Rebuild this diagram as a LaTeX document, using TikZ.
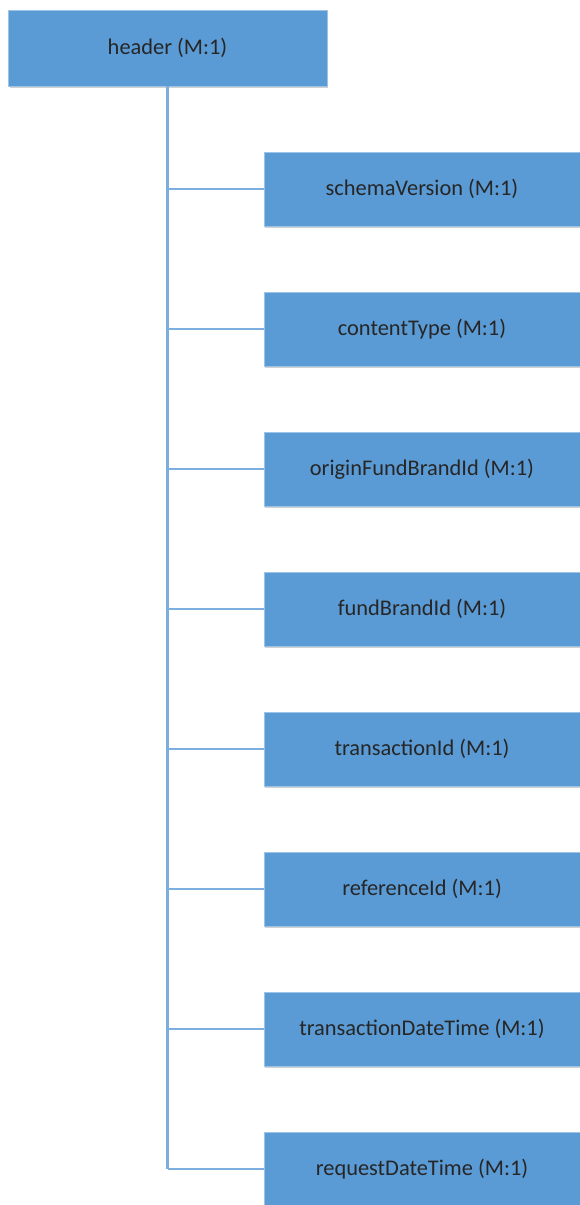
\documentclass[tikz,border=0pt]{standalone}
\usepackage{fontspec}
\setmainfont{Carlito}
\usetikzlibrary{shadows}
\definecolor{boxblue}{HTML}{5B9BD5}
\definecolor{edgeblue}{HTML}{9DC3E6}
\tikzset{
  elem/.style={draw=edgeblue, line width=0.4pt, fill=boxblue, minimum width=237pt, minimum height=55.5pt,
    inner sep=0pt, text=black!85, font=\fontsize{16.8}{20}\selectfont,
    drop shadow={shadow xshift=1pt, shadow yshift=-1.2pt, fill=black, opacity=0.18}},
  link/.style={draw=boxblue!80!white, line width=1.6pt}
}
\begin{document}
\begin{tikzpicture}[x=0.75pt,y=-0.75pt]
	\useasboundingbox (0,0) rectangle (579,1205);
	
	\node[elem, minimum width=239pt, minimum height=57pt] (header) at (167.5,48) {header (M:1)};
	
	\foreach \name/\txt [count=\i] in {schema/schemaVersion, content/contentType, origin/originFundBrandId,
		fund/fundBrandId, trans/transactionId, ref/referenceId, transdt/transactionDateTime, reqdt/requestDateTime}
	{
		\node[elem] (\name) at (422,{189+140*(\i-1)}) {\txt{} (M:1)};
		\draw[link] (header.south |- \name.west) -- (\name.west);
	}
	
	\draw[link] (header.south) -- (header.south |- reqdt.west);
\end{tikzpicture}
\end{document}
